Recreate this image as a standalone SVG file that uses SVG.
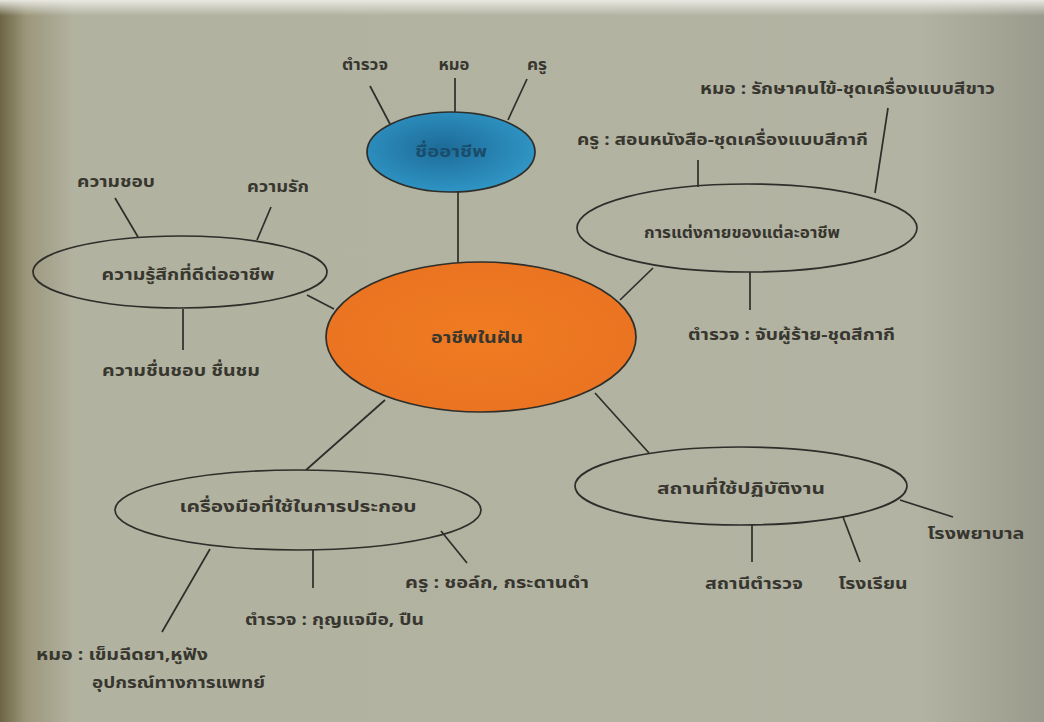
<svg xmlns="http://www.w3.org/2000/svg" width="1044" height="722" viewBox="0 0 1044 722">
<defs>
<linearGradient id="bgH" x1="0" y1="0" x2="1" y2="0">
<stop offset="0" stop-color="#6c6444"/>
<stop offset="0.025" stop-color="#9c977c"/>
<stop offset="0.07" stop-color="#b2b2a0"/>
<stop offset="0.88" stop-color="#b3b3a3"/>
<stop offset="1" stop-color="#9b9b8d"/>
</linearGradient>
<linearGradient id="bgV" x1="0" y1="0" x2="0" y2="1">
<stop offset="0" stop-color="#ecece6" stop-opacity="0.95"/>
<stop offset="0.022" stop-color="#e6e6e0" stop-opacity="0"/>
<stop offset="1" stop-color="#ffffff" stop-opacity="0"/>
</linearGradient>
<radialGradient id="orange" cx="0.5" cy="0.5" r="0.5">
<stop offset="0" stop-color="#ef7b22"/>
<stop offset="1" stop-color="#ea7421"/>
</radialGradient>
<radialGradient id="blue" cx="0.45" cy="0.45" r="0.55">
<stop offset="0" stop-color="#1d6b98"/>
<stop offset="1" stop-color="#2f94c4"/>
</radialGradient>
</defs>
<style>
.t{font-family:"Noto Sans Thai","Noto Sans","DejaVu Sans","Liberation Sans",sans-serif;font-size:16px;font-weight:bold;fill:#37362f;}
.c{text-anchor:middle;}
.e{fill:none;stroke:#2e2e2a;stroke-width:1.7;}
.l{stroke:#2e2e2a;stroke-width:1.7;fill:none;}
</style>
<rect x="0" y="0" width="1044" height="722" fill="url(#bgH)"/>
<rect x="0" y="0" width="1044" height="722" fill="url(#bgV)"/>

<g id="connectors">
<line class="l" x1="370" y1="86" x2="390" y2="124"/>
<line class="l" x1="455" y1="78" x2="455" y2="112"/>
<line class="l" x1="527" y1="79" x2="508" y2="120"/>
<line class="l" x1="458" y1="192" x2="458" y2="262"/>
<line class="l" x1="115" y1="198" x2="138" y2="237"/>
<line class="l" x1="271" y1="207" x2="257" y2="240"/>
<line class="l" x1="183" y1="309" x2="183" y2="350"/>
<line class="l" x1="307" y1="295" x2="334" y2="309"/>
<line class="l" x1="698" y1="160" x2="698" y2="187"/>
<line class="l" x1="888" y1="108" x2="875" y2="193"/>
<line class="l" x1="750" y1="272" x2="750" y2="310"/>
<line class="l" x1="653" y1="268" x2="620" y2="300"/>
<line class="l" x1="595" y1="393" x2="649" y2="453"/>
<line class="l" x1="752" y1="525" x2="752" y2="562"/>
<line class="l" x1="843" y1="517" x2="860" y2="562"/>
<line class="l" x1="900" y1="500" x2="953" y2="517"/>
<line class="l" x1="385" y1="400" x2="306" y2="470"/>
<line class="l" x1="210" y1="549" x2="162" y2="632"/>
<line class="l" x1="313" y1="550" x2="313" y2="588"/>
<line class="l" x1="441" y1="531" x2="467" y2="563"/>
</g>

<g id="node-blue">
<ellipse cx="451" cy="152" rx="84" ry="40" fill="url(#blue)" stroke="#2e2e2a" stroke-width="1.7"/>
<text class="t c" x="451" y="157" style="fill:#1a4d6c" textLength="72" lengthAdjust="spacingAndGlyphs">ชื่ออาชีพ</text>
</g>
<g id="label-top-police"><text class="t c" x="365" y="70" textLength="46" lengthAdjust="spacingAndGlyphs">ตำรวจ</text></g>
<g id="label-top-doctor"><text class="t c" x="454" y="70" textLength="31" lengthAdjust="spacingAndGlyphs">หมอ</text></g>
<g id="label-top-teacher"><text class="t c" x="537" y="70" textLength="20" lengthAdjust="spacingAndGlyphs">ครู</text></g>

<g id="node-center">
<ellipse cx="481" cy="337" rx="155" ry="75" fill="url(#orange)" stroke="#2e2e2a" stroke-width="1.7"/>
<text class="t c" x="477" y="343" textLength="92" lengthAdjust="spacingAndGlyphs">อาชีพในฝัน</text>
</g>

<g id="node-feeling">
<ellipse class="e" cx="180" cy="272" rx="147" ry="36"/>
<text class="t c" x="188" y="280" textLength="173" lengthAdjust="spacingAndGlyphs">ความรู้สึกที่ดีต่ออาชีพ</text>
<text class="t c" x="116" y="187" textLength="78" lengthAdjust="spacingAndGlyphs">ความชอบ</text>
<text class="t c" x="278" y="192" textLength="62" lengthAdjust="spacingAndGlyphs">ความรัก</text>
<text class="t c" x="181" y="376" textLength="158" lengthAdjust="spacingAndGlyphs">ความชื่นชอบ ชื่นชม</text>
</g>

<g id="node-dress">
<ellipse class="e" cx="747" cy="228" rx="170" ry="44"/>
<text class="t c" x="742" y="238" textLength="196" lengthAdjust="spacingAndGlyphs">การแต่งกายของแต่ละอาชีพ</text>
<text class="t" x="700" y="94" textLength="295" lengthAdjust="spacingAndGlyphs">หมอ : รักษาคนไข้-ชุดเครื่องแบบสีขาว</text>
<text class="t" x="577" y="145" textLength="291" lengthAdjust="spacingAndGlyphs">ครู : สอนหนังสือ-ชุดเครื่องแบบสีกากี</text>
<text class="t" x="688" y="340" textLength="207" lengthAdjust="spacingAndGlyphs">ตำรวจ : จับผู้ร้าย-ชุดสีกากี</text>
</g>

<g id="node-place">
<ellipse class="e" cx="741" cy="486" rx="166" ry="39"/>
<text class="t c" x="741" y="494" textLength="168" lengthAdjust="spacingAndGlyphs">สถานที่ใช้ปฏิบัติงาน</text>
<text class="t c" x="754" y="589" textLength="98" lengthAdjust="spacingAndGlyphs">สถานีตำรวจ</text>
<text class="t c" x="873" y="589" textLength="69" lengthAdjust="spacingAndGlyphs">โรงเรียน</text>
<text class="t c" x="976" y="539" textLength="97" lengthAdjust="spacingAndGlyphs">โรงพยาบาล</text>
</g>

<g id="node-tools">
<ellipse class="e" cx="298" cy="510" rx="183" ry="40"/>
<text class="t c" x="298" y="512" textLength="237" lengthAdjust="spacingAndGlyphs">เครื่องมือที่ใช้ในการประกอบ</text>
<text class="t" x="405" y="588" textLength="184" lengthAdjust="spacingAndGlyphs">ครู : ชอล์ก, กระดานดำ</text>
<text class="t" x="245" y="625" textLength="179" lengthAdjust="spacingAndGlyphs">ตำรวจ : กุญแจมือ, ปืน</text>
<text class="t" x="36" y="660" textLength="172" lengthAdjust="spacingAndGlyphs">หมอ : เข็มฉีดยา,หูฟัง</text>
<text class="t" x="92" y="688" textLength="173" lengthAdjust="spacingAndGlyphs">อุปกรณ์ทางการแพทย์</text>
</g>
</svg>
